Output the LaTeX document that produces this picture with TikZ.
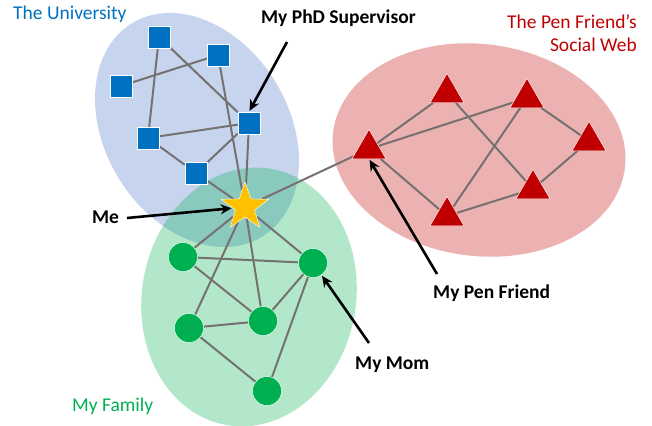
\documentclass[tikz,border=0pt]{standalone}
\usepackage{fontspec}
\setmainfont{Carlito}
\usetikzlibrary{arrows.meta,shapes.geometric,backgrounds}
\definecolor{unicol}{HTML}{0070C0}
\definecolor{unifill}{HTML}{4472C4}
\definecolor{famcol}{HTML}{00B050}
\definecolor{pencol}{HTML}{C00000}
\definecolor{starcol}{HTML}{FFC000}
\definecolor{linkcol}{HTML}{767171}
\tikzset{
    %Define standard arrow tip
    >={Stealth[length=11pt,width=10pt]},
    %Define styles for the people
    uni/.style={
           rectangle,
           draw=white, thin,
           fill=unicol,
           minimum size=22pt,
           inner sep=0pt},
    fam/.style={
           circle,
           draw=white, thin,
           fill=famcol,
           minimum size=29pt,
           inner sep=0pt},
    pen/.style={
           regular polygon,
           regular polygon sides=3,
           draw=white, thin,
           fill=pencol,
           minimum size=39pt,
           inner sep=0pt},
    self/.style={
           star,
           star points=5,
           star point ratio=2.5,
           draw=white, thin,
           fill=starcol,
           minimum size=50pt,
           inner sep=0pt},
    % Define style for the groups
    group/.style={fill opacity=0.3},
    % Define text styles
    grouplabel/.style={
           inner sep=0pt,
           font=\fontsize{19.5}{23}\selectfont},
    callout/.style={
           inner sep=0pt,
           font=\bfseries\fontsize{19.5}{23}\selectfont},
    % Define arrow styles
    link/.style={
           -,
           line width=2pt,
           draw=linkcol},
    pointer/.style={
           ->,
           line width=2.6pt,
           shorten >=1pt}
}
\begin{document}
\begin{tikzpicture}[x=1pt,y=-1pt]
\useasboundingbox (0,0) rectangle (652,425);

% the university
\node[uni] (uni1) at (159,37) {};
\node[uni] (uni2) at (218,55) {};
\node[uni] (uni3) at (121,86) {};
\node[uni] (uni4) at (249,123) {};
\node[uni] (uni5) at (148,138) {};
\node[uni] (uni6) at (196,173) {};

% me
\node[self] (me) at (245,207) {};

% the family
\node[fam] (fam1) at (183,257) {};
\node[fam] (fam2) at (313,263) {};
\node[fam] (fam3) at (189,328) {};
\node[fam] (fam4) at (263,321) {};
\node[fam] (fam5) at (267,391) {};

% the pen friend's web
\node[pen] (pen1) at (369,149) {};
\node[pen] (pen2) at (447,93) {};
\node[pen] (pen3) at (527,98) {};
\node[pen] (pen4) at (589,141) {};
\node[pen] (pen5) at (533,189) {};
\node[pen] (pen6) at (447,216) {};

\begin{scope}[on background layer]
\fill[group, unifill, rotate around={-58.7:(197,130)}] (197,130) ellipse [x radius=125, y radius=92];
\fill[group, famcol, rotate around={-10:(249,297)}] (249,297) ellipse [x radius=107, y radius=130];
\fill[group, pencol, rotate around={-7:(479,150)}] (479,150) ellipse [x radius=147, y radius=106];

\path[link]
	(uni1) edge (uni5) edge (uni4)
	(uni3) edge (uni2)
	(uni2) edge (me)
	(uni5) edge (uni4) edge (uni6)
	(uni6) edge (uni4) edge (me)
	(uni4) edge (me)
	(me) edge (pen1) edge (fam1) edge (fam3) edge (fam4) edge (fam2)
	(fam1) edge (fam2) edge (fam4)
	(fam2) edge (fam4) edge (fam5)
	(fam3) edge (fam4) edge (fam5)
	(pen1) edge (pen2) edge (pen3) edge (pen6)
	(pen2) edge (pen5)
	(pen3) edge (pen6) edge (pen4)
	(pen4) edge (pen5)
	(pen6) edge (pen5);
\end{scope}

% labels
\node[grouplabel, text=unicol, anchor=base west] (unilabel) at (13,19.5) {The University};
\node[grouplabel, text=pencol, align=right, anchor=base east] (penlabel) at (637,52) {The Pen Friend’s\\Social Web};
\node[grouplabel, text=famcol, anchor=base west] (famlabel) at (72,411) {My Family};
\node[callout, anchor=base west] (suplabel) at (261,24) {My PhD Supervisor};
\node[callout, anchor=base west] (melabel) at (92,223) {Me};
\node[callout, anchor=base west] (pflabel) at (433,298) {My Pen Friend};
\node[callout, anchor=base west] (momlabel) at (355,369) {My Mom};

% pointers
\coordinate (suptail) at (287,42);
\coordinate (metail) at (127,218);
\coordinate (pftail) at (437,274);
\coordinate (momtail) at (369,343);
\draw[pointer] (suptail) -- (uni4.north);
\draw[pointer] (metail) -- (me);
\draw[pointer] (pftail) -- (pen1.south);
\draw[pointer] (momtail) -- (fam2);
\end{tikzpicture}
\end{document}
